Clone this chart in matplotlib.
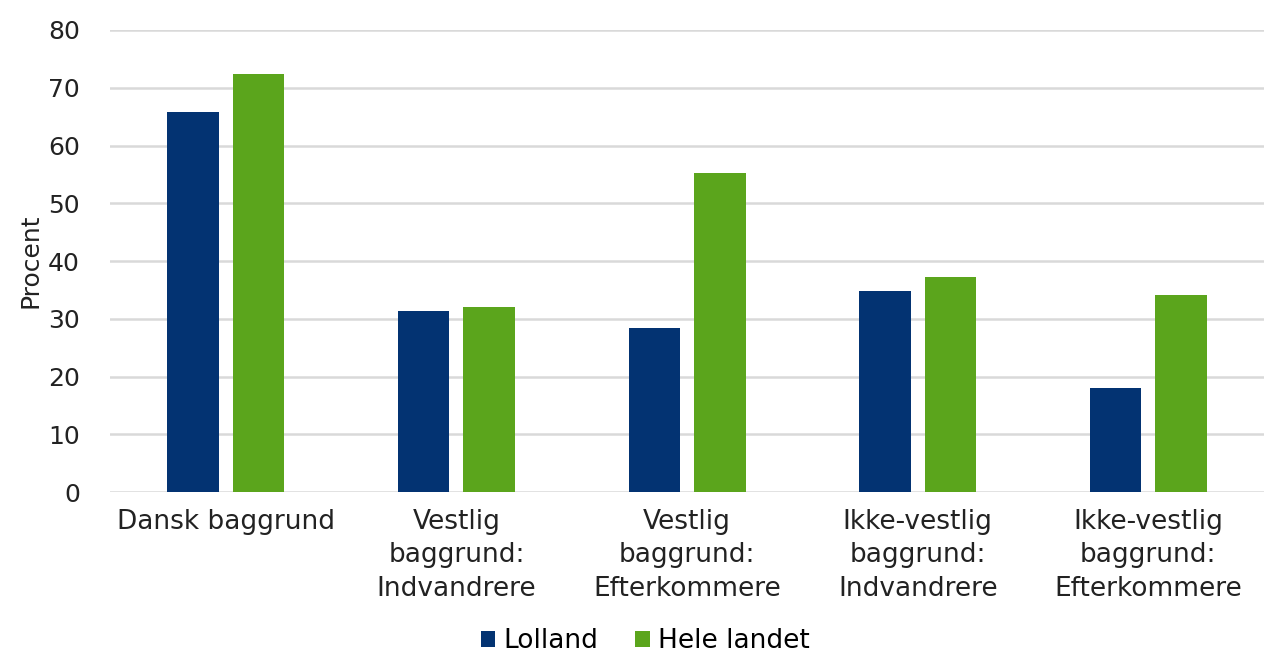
import numpy as np
import matplotlib.pyplot as plt

categories = ["Dansk baggrund",
              "Vestlig\nbaggrund:\nIndvandrere",
              "Vestlig\nbaggrund:\nEfterkommere",
              "Ikke-vestlig\nbaggrund:\nIndvandrere",
              "Ikke-vestlig\nbaggrund:\nEfterkommere"]
lolland = [65.8, 31.4, 28.5, 34.9, 18.1]
hele_landet = [72.3, 32.0, 55.2, 37.2, 34.1]

navy = "#033372"
green = "#5ba51c"

fig = plt.figure(figsize=(12.7, 6.66), dpi=100)
ax = fig.add_axes([0.087, 0.261, 0.908, 0.694])

x = np.arange(len(categories))
w = 0.223
off = 0.142
ax.bar(x - off, lolland, width=w, color=navy, label="Lolland", zorder=3)
ax.bar(x + off, hele_landet, width=w, color=green, label="Hele landet", zorder=3)

ax.set_xlim(-0.5, 4.5)
ax.set_ylim(0, 80)
ax.set_yticks(range(0, 81, 10))
ax.yaxis.grid(True, color="#d9d9d9", linewidth=1.8, zorder=0)
for s in ax.spines.values():
    s.set_visible(False)
ax.tick_params(axis="both", length=0, labelsize=18, colors="#222222")
ax.tick_params(axis="y", pad=22)
ax.set_xticks(x)
ax.set_xticklabels(categories, linespacing=1.38, fontsize=19)
ax.tick_params(axis="x", pad=12)
ax.set_ylabel("Procent", fontsize=18, color="#222222", labelpad=4)

# legend in figure coords, centred under the plot
fig.legend(loc="center", bbox_to_anchor=(0.508, 0.037), ncol=2, frameon=False,
           fontsize=19, handlelength=0.55, handleheight=0.55, handletextpad=0.3,
           columnspacing=1.4, borderpad=0.1)

fig.savefig("out.png", dpi=100)
